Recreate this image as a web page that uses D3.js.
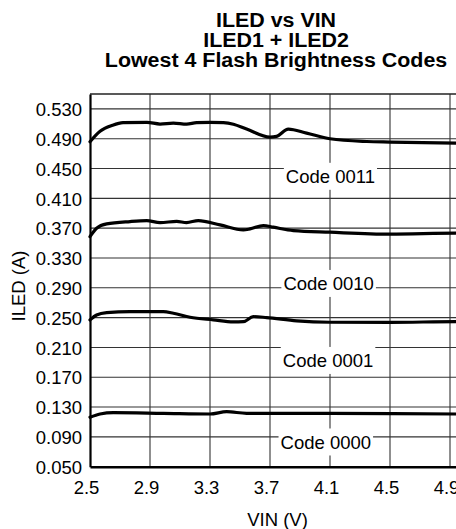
<!DOCTYPE html>
<html>
<head>
<meta charset="utf-8">
<script src="https://cdn.jsdelivr.net/npm/d3@7"></script>
<style>
  html, body { margin: 0; padding: 0; background: #fff; overflow: hidden; }
  svg { display: block; font-family: "Liberation Sans", Arial, Helvetica, sans-serif; }
</style>
</head>
<body>
<svg id="chart" width="456" height="529"></svg>
<script>
// ---- data ----
const titleLines = ["ILED vs VIN", "ILED1 + ILED2", "Lowest 4 Flash Brightness Codes"];
const xTicks = [2.5, 2.9, 3.3, 3.7, 4.1, 4.5, 4.9];
const xGrid = [2.9, 3.3, 3.7, 4.1, 4.5, 4.9, 5.3];
const yTicks = [0.050, 0.090, 0.130, 0.170, 0.210, 0.250, 0.290, 0.330, 0.370, 0.410, 0.450, 0.490, 0.530];
const xLabel = "VIN (V)";
const yLabel = "ILED (A)";

const code0011 = [
  [2.50, 0.486], [2.567, 0.500], [2.65, 0.508], [2.72, 0.5115], [2.88, 0.512],
  [2.967, 0.5097], [3.056, 0.511], [3.144, 0.5096], [3.211, 0.5115], [3.30, 0.5118],
  [3.39, 0.5115], [3.456, 0.5095], [3.544, 0.503], [3.70, 0.4922], [3.744, 0.4932],
  [3.822, 0.503], [3.944, 0.4975], [4.10, 0.4900], [4.344, 0.4863], [4.50, 0.4855],
  [4.94, 0.4840], [5.20, 0.4835], [5.50, 0.4830]
];
const code0010 = [
  [2.50, 0.3587], [2.544, 0.370], [2.611, 0.3758], [2.767, 0.3789], [2.878, 0.3800],
  [2.967, 0.3775], [3.078, 0.3790], [3.144, 0.3775], [3.222, 0.3802], [3.367, 0.3744],
  [3.522, 0.3677], [3.567, 0.3690], [3.656, 0.3735], [3.722, 0.3713], [3.856, 0.3668],
  [4.10, 0.3646], [4.50, 0.3620], [4.94, 0.3633], [5.20, 0.3632], [5.50, 0.3630]
];
const code0001 = [
  [2.50, 0.2469], [2.544, 0.2536], [2.611, 0.2567], [2.767, 0.2580], [2.989, 0.2580],
  [3.056, 0.2559], [3.167, 0.2505], [3.322, 0.2469], [3.456, 0.2442], [3.522, 0.2445],
  [3.589, 0.2513], [3.678, 0.2500], [3.878, 0.2456], [4.10, 0.2438], [4.50, 0.2436],
  [4.94, 0.2446], [5.20, 0.2445], [5.50, 0.2445]
];
const code0000 = [
  [2.50, 0.1163], [2.567, 0.1207], [2.656, 0.1225], [2.989, 0.1216], [3.30, 0.1207],
  [3.411, 0.1238], [3.544, 0.1216], [4.10, 0.1216], [4.94, 0.1207], [5.20, 0.1207],
  [5.50, 0.1207]
];
const seriesList = [code0011, code0010, code0001, code0000];

const labelNames = ["Code 0011", "Code 0010", "Code 0001", "Code 0000"];
const labelVin   = [4.103, 4.091, 4.087, 4.072];
const labelIled  = [0.4389, 0.2952, 0.1919, 0.0825];

// ---- layout ----
const svg = d3.select("#chart");
const plotLeft = 90, plotTop = 94, plotBottom = 466.7, plotRight = 540;
const x = d3.scaleLinear().domain([2.5, 5.5]).range([plotLeft, plotRight]);
const y = d3.scaleLinear().domain([0.05, 0.55]).range([plotBottom, plotTop]);
const font = '"Liberation Sans", Arial, Helvetica, sans-serif';

// title
svg.append("g").selectAll("text").data(titleLines).join("text")
  .attr("transform", (d, i) => `translate(276,${27 + i * 20}) scale(1.07,1)`)
  .attr("text-anchor", "middle")
  .attr("font-weight", "bold").attr("font-size", 20)
  .attr("fill", "#000")
  .text(d => d);

// grid
const grid = svg.append("g");
grid.selectAll("line.v").data(xGrid).join("line").attr("class", "v")
  .attr("x1", d => x(d)).attr("x2", d => x(d))
  .attr("y1", plotTop).attr("y2", plotBottom)
  .attr("stroke", "#333").attr("stroke-width", 1.1);
grid.selectAll("line.h").data(yTicks.slice(1)).join("line").attr("class", "h")
  .attr("x1", plotLeft).attr("x2", plotRight)
  .attr("y1", d => y(d)).attr("y2", d => y(d))
  .attr("stroke", "#333").attr("stroke-width", 1.1);
// top frame
svg.append("line").attr("x1", plotLeft).attr("x2", plotRight).attr("y1", plotTop).attr("y2", plotTop)
  .attr("stroke", "#222").attr("stroke-width", 1.3);

// axes
const xAxis = svg.append("g").attr("transform", `translate(0,${plotBottom})`)
  .call(d3.axisBottom(x).tickValues(xTicks).tickSize(0).tickPadding(0).tickFormat(d3.format(".1f")));
xAxis.select(".domain").attr("stroke", "#000").attr("stroke-width", 2.4);
xAxis.selectAll("text").attr("font-size", 18.5).attr("font-family", font).attr("fill", "#000")
  .attr("dy", null).attr("y", 27.5).attr("x", -4);

const yAxis = svg.append("g").attr("transform", `translate(${plotLeft},0)`)
  .call(d3.axisLeft(y).tickValues(yTicks).tickSize(0).tickPadding(8).tickFormat(d3.format(".3f")));
yAxis.select(".domain").attr("stroke", "#000").attr("stroke-width", 2.2);
yAxis.selectAll("text").attr("font-size", 18.5).attr("font-family", font).attr("fill", "#000")
  .attr("dy", "0.36em");

// axis titles
svg.append("text").attr("x", 277.5).attr("y", 526)
  .attr("text-anchor", "middle").attr("font-size", 18.5).attr("fill", "#000").text(xLabel);
svg.append("text").attr("transform", "translate(25,286) rotate(-90)")
  .attr("text-anchor", "middle").attr("font-size", 18.5).attr("fill", "#000").text(yLabel);

// labels with white boxes
const lg = svg.append("g");
labelNames.forEach((name, i) => {
  const cx = x(labelVin[i]), cy = y(labelIled[i]);
  const g = lg.append("g");
  const rect = g.append("rect").attr("fill", "#fff");
  const t = g.append("text").attr("x", cx).attr("y", cy + 6.5)
    .attr("text-anchor", "middle").attr("font-size", 18.5).attr("fill", "#000").text(name);
  const w = t.node().getComputedTextLength();
  rect.attr("x", cx - w / 2 - 2).attr("y", cy - 14).attr("width", w + 4).attr("height", 27);
});

// curves
const line = d3.line().x(d => x(d[0])).y(d => y(d[1])).curve(d3.curveMonotoneX);
svg.append("g").selectAll("path").data(seriesList).join("path")
  .attr("d", line).attr("fill", "none").attr("stroke", "#000")
  .attr("stroke-width", 3.2).attr("stroke-linejoin", "round").attr("stroke-linecap", "round");
</script>
</body>
</html>
